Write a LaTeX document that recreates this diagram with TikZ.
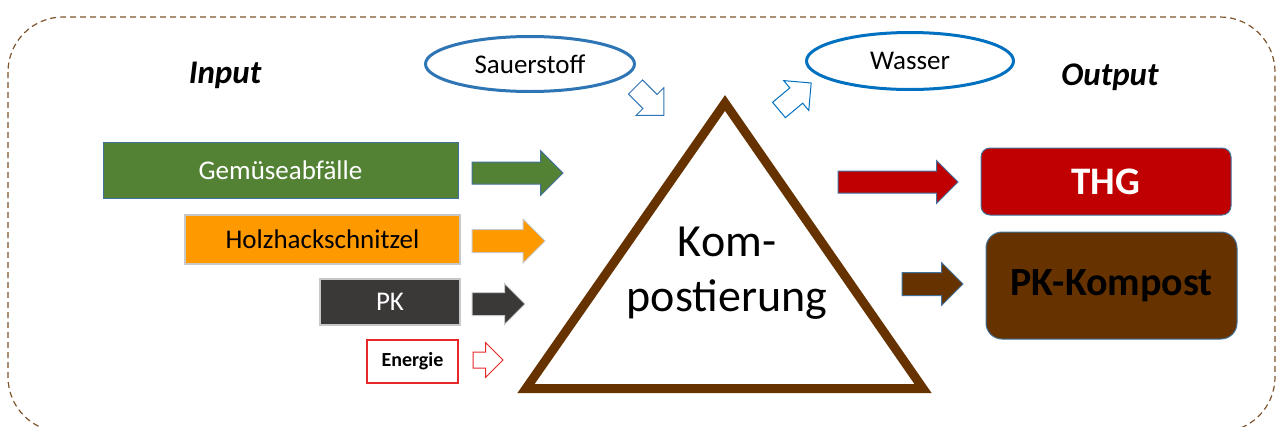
\documentclass[tikz,border=0pt]{standalone}
\usepackage{fontspec}
\setmainfont{Carlito}
\usepackage{tikz}
\usetikzlibrary{shapes.geometric,shapes.arrows}

\definecolor{gruen}{RGB}{84,130,53}
\definecolor{holzorange}{RGB}{255,153,0}
\definecolor{dunkelgrau}{RGB}{59,56,56}
\definecolor{thgrot}{RGB}{192,0,0}
\definecolor{braun}{RGB}{102,51,0}
\definecolor{randblau}{RGB}{65,113,156}
\definecolor{hellgrau}{RGB}{200,200,200}
\definecolor{blausauer}{RGB}{46,117,182}
\definecolor{blauwasser}{RGB}{0,112,192}
\definecolor{rahmenbraun}{RGB}{127,85,45}
\definecolor{energierot}{RGB}{232,40,40}

\tikzset{
  kasten/.style={rectangle, inner sep=0pt, outer sep=0pt, line width=1pt},
  wolke/.style={ellipse, inner sep=0pt, line width=3pt, font=\fontsize{27}{32}\selectfont},
  % Laenge, halbe Schaftbreite, Kopfueberstand
  pfeil/.style n args={3}{single arrow, draw, inner xsep=0pt, inner ysep=#2, outer sep=0pt, line width=1pt,
    minimum height=#1, minimum width=0pt, single arrow head extend=#3, anchor=tail},
  titel/.style={anchor=base, font=\fontsize{33}{40}\selectfont\bfseries\itshape}
}

\begin{document}
\begin{tikzpicture}[x=1pt,y=1pt,yscale=-1,xscale=1]
\useasboundingbox (0,0) rectangle (1277,426);

% Rahmen
\begin{scope}
\clip (0,0) rectangle (1277,426);
\draw [rahmenbraun, line width=1.2pt, dash pattern=on 6pt off 4pt, rounded corners=55pt] (8,17) rectangle (1275,432);
\end{scope}

% Titel
\node (input) at (225,83) [titel] {Input};
\node (output) at (1110,85) [titel] {Output};

% Sauerstoff, Wasser
\node (sauer) at (530,64) [wolke, draw=blausauer, minimum width=209pt, minimum height=55pt] {Sauerstoff};
\node (wasser) at (910,61) [wolke, draw=blauwasser, minimum width=207pt, minimum height=57pt] {Wasser};
\node (asauer) at (635.5,87) [pfeil={40pt}{9.5pt}{9.5pt}, draw=blausauer, fill=white, rotate=-45] {};
\node (awasser) at (779,110) [pfeil={42pt}{9.5pt}{9.5pt}, draw=blauwasser, fill=white, rotate=40] {};

% Input
\node (gem) at (280.5,170) [kasten, fill=gruen, draw=randblau, minimum width=355pt, minimum height=56pt, text=white, font=\fontsize{27}{32}\selectfont] {Gemüseabfälle};
\node (holz) at (322.5,239.5) [kasten, fill=holzorange, draw=hellgrau, line width=1.5pt, minimum width=275pt, minimum height=49pt, font=\fontsize{27}{32}\selectfont] {Holzhackschnitzel};
\node (pk) at (390,302) [kasten, fill=dunkelgrau, draw=hellgrau, line width=1.5pt, minimum width=140pt, minimum height=46pt, text=white, font=\fontsize{27}{32}\selectfont] {PK};
\node (energie) at (412.5,361.5) [kasten, fill=white, draw=energierot, line width=1.5pt, minimum width=91pt, minimum height=43pt, font=\fontsize{20}{24}\selectfont\bfseries] {Energie};

\node (agem) at (472,173) [pfeil={91pt}{10.5pt}{11.5pt}, fill=gruen, draw=randblau] {};
\node (aholz) at (472,241) [pfeil={73pt}{11pt}{10.5pt}, fill=holzorange, draw=hellgrau] {};
\node (apk) at (472,304) [pfeil={53pt}{11pt}{9pt}, fill=dunkelgrau, draw=hellgrau] {};
\node (aenergie) at (473,360) [pfeil={30pt}{7.5pt}{9.5pt}, fill=white, draw=energierot] {};

% Kompostierung
\draw [braun, line width=9pt, miter limit=10] (526,388.5) -- (725,103) -- (923,388.5) -- cycle;
\node (komp) at (727,273) [align=center, inner sep=0pt, font=\fontsize{46}{55}\selectfont] {Kom-\\postierung};

% Output
\node (athg) at (838,182) [pfeil={120pt}{10.5pt}{10.5pt}, fill=thgrot, draw=randblau] {};
\node (akompost) at (902,284) [pfeil={61pt}{11pt}{10pt}, fill=braun, draw=randblau] {};

\node (thg) at (1106,181.5) [kasten, fill=thgrot, draw=randblau, rounded corners=9pt, minimum width=250pt, minimum height=67pt, text=white, font=\fontsize{39}{46}\selectfont\bfseries] {THG};
\node (kompost) at (1111.5,285.5) [kasten, fill=braun, draw=randblau, rounded corners=16pt, minimum width=251pt, minimum height=107pt, font=\fontsize{40}{48}\selectfont\bfseries] {PK-Kompost};

\end{tikzpicture}
\end{document}
